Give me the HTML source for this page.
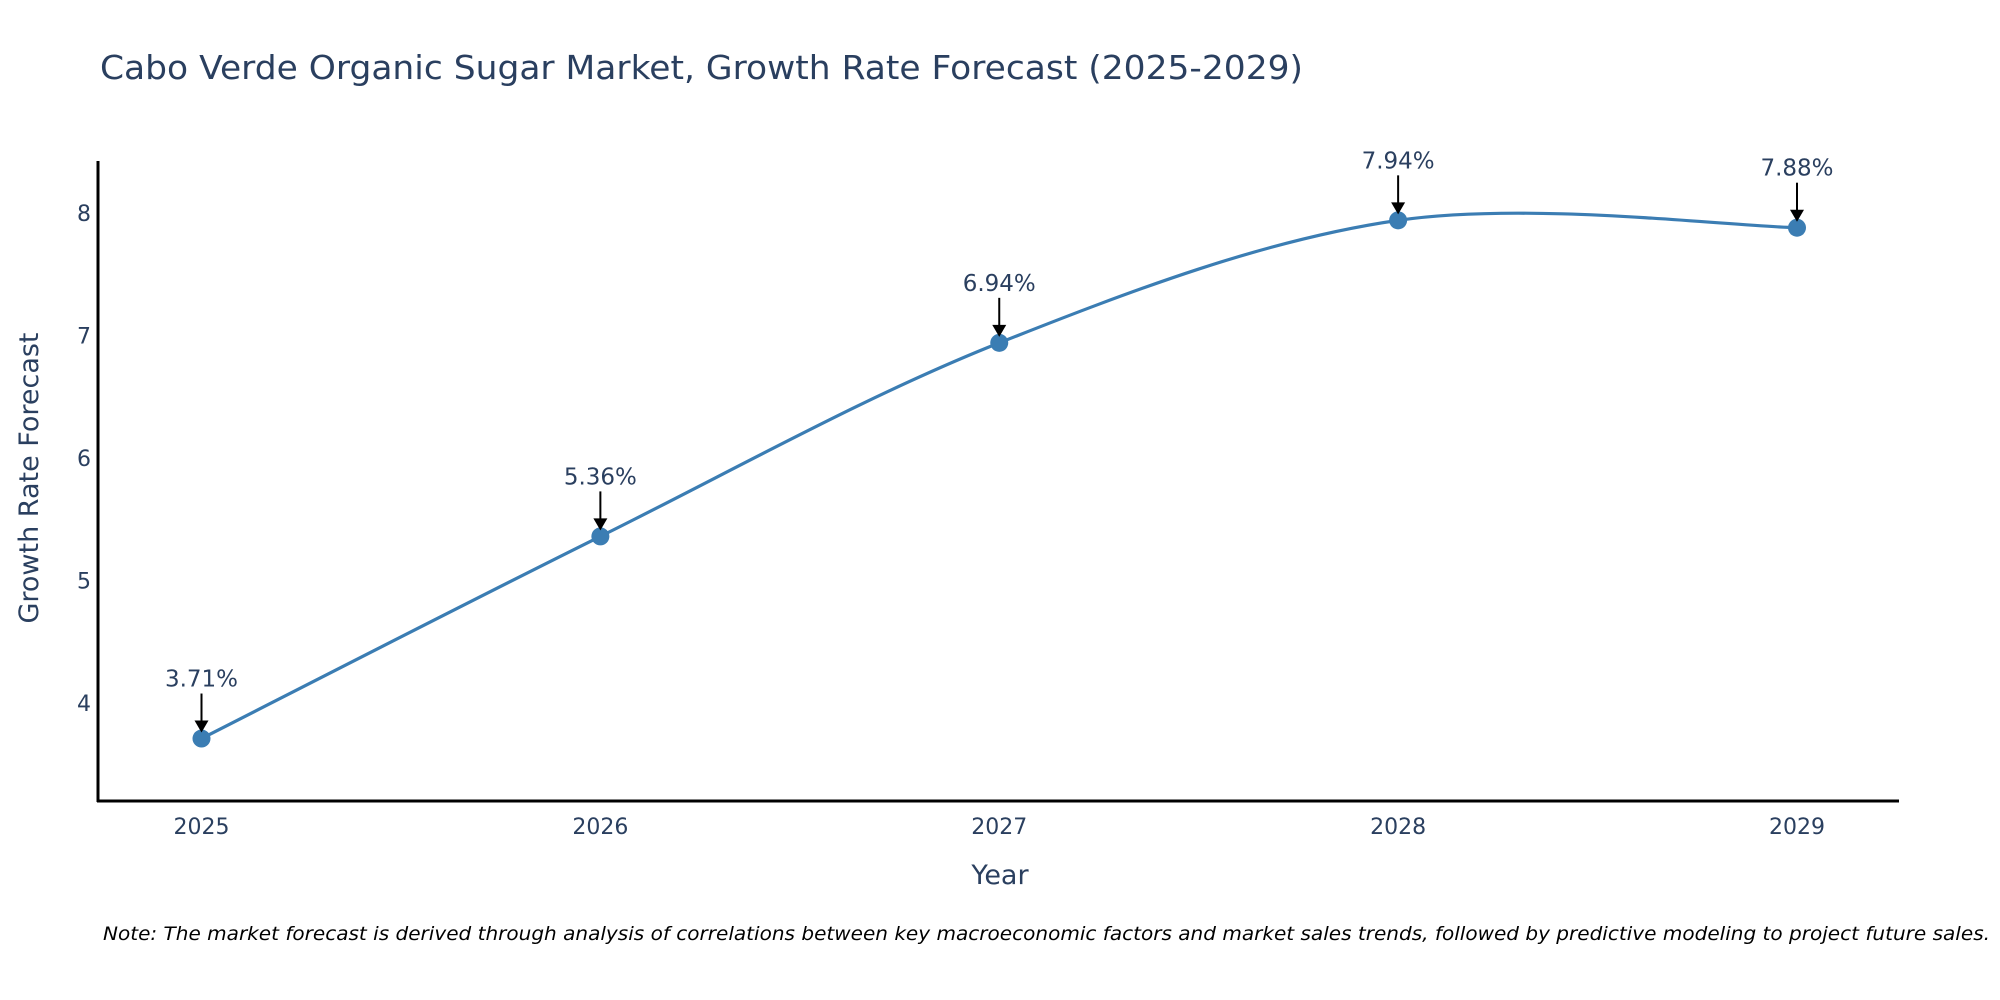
<!DOCTYPE html>
<html><head><meta charset="utf-8"><style>
body{margin:0;background:#fff;}
svg{display:block;font-family:"DejaVu Sans","Liberation Sans",sans-serif;}
</style></head><body>
<svg id="chart" width="2000" height="1000" viewBox="0 0 2000 1000">
<text x="100" y="79" font-size="33" fill="#2a3f5f" textLength="1203" lengthAdjust="spacingAndGlyphs">Cabo Verde Organic Sugar Market, Growth Rate Forecast (2025-2029)</text>
<g id="yticks"></g>
<g id="xticks"></g>
<line x1="98" y1="161" x2="98" y2="802" stroke="#000" stroke-width="3"/>
<line x1="97" y1="801" x2="1899" y2="801" stroke="#000" stroke-width="3"/>
<text x="38" y="478" font-size="27" fill="#2a3f5f" text-anchor="middle" transform="rotate(-90 38 478)">Growth Rate Forecast</text>
<text x="1000" y="884" font-size="27" fill="#2a3f5f" text-anchor="middle">Year</text>
<g id="series"></g>
<text x="103" y="940" font-size="19" font-style="italic" fill="#000" textLength="1887" lengthAdjust="spacingAndGlyphs">Note: The market forecast is derived through analysis of correlations between key macroeconomic factors and market sales trends, followed by predictive modeling to project future sales.</text>
</svg>
<script>
const years = [2025, 2026, 2027, 2028, 2029];
const values = [3.71, 5.36, 6.94, 7.94, 7.88];
const valueLabels = ["3.71%", "5.36%", "6.94%", "7.94%", "7.88%"];
const yTickValues = [4, 5, 6, 7, 8];

const NS = "http://www.w3.org/2000/svg";
function xPos(yr){ return 201.5 + (yr - 2025) * (1797 - 201.5) / 4; }
function yPos(v){ return 213 + (8 - v) * 122.5; }
function mk(tag, attrs, parent){ const e=document.createElementNS(NS,tag); for(const k in attrs) e.setAttribute(k, attrs[k]); parent.appendChild(e); return e; }

const yt = document.getElementById('yticks');
yTickValues.forEach(v=>{
  const t = mk('text',{x:91,y:yPos(v)+8,'font-size':22,fill:'#2a3f5f','text-anchor':'end'},yt);
  
  
  t.textContent = v;
});
const xt = document.getElementById('xticks');
years.forEach(yr=>{
  const t = mk('text',{x:xPos(yr),y:834,'font-size':22,fill:'#2a3f5f','text-anchor':'middle'},xt);
  
  
  t.textContent = yr;
});

const g = document.getElementById('series');
const pts = years.map((yr,i)=>[xPos(yr), yPos(values[i])]);
let d = `M${pts[0][0]},${pts[0][1]}`;
for(let i=0;i<pts.length-1;i++){
  const p0 = pts[i-1]||pts[i], p1=pts[i], p2=pts[i+1], p3=pts[i+2]||pts[i+1];
  const c1=[p1[0]+(p2[0]-p0[0])/6, p1[1]+(p2[1]-p0[1])/6];
  const c2=[p2[0]-(p3[0]-p1[0])/6, p2[1]-(p3[1]-p1[1])/6];
  d += ` C${c1[0]},${c1[1]} ${c2[0]},${c2[1]} ${p2[0]},${p2[1]}`;
}
const line = mk('path',{d:d,fill:'none',stroke:'#3b7db3','stroke-width':3.2},g);


pts.forEach((p,i)=>{
  const c = mk('circle',{cx:p[0],cy:p[1],r:9,fill:'#3b7db3'},g);
  
  
  const a = mk('line',{x1:p[0],y1:p[1]-45,x2:p[0],y2:p[1]-16,stroke:'#000','stroke-width':2},g);
  
  
  const h = mk('polygon',{points:`${p[0]-7},${p[1]-18} ${p[0]+7},${p[1]-18} ${p[0]},${p[1]-6}`,fill:'#000'},g);
  
  
  const t = mk('text',{x:p[0],y:p[1]-52,'font-size':23,fill:'#2a3f5f','text-anchor':'middle'},g);
  
  
  t.textContent = valueLabels[i];
});
</script>
</body></html>
